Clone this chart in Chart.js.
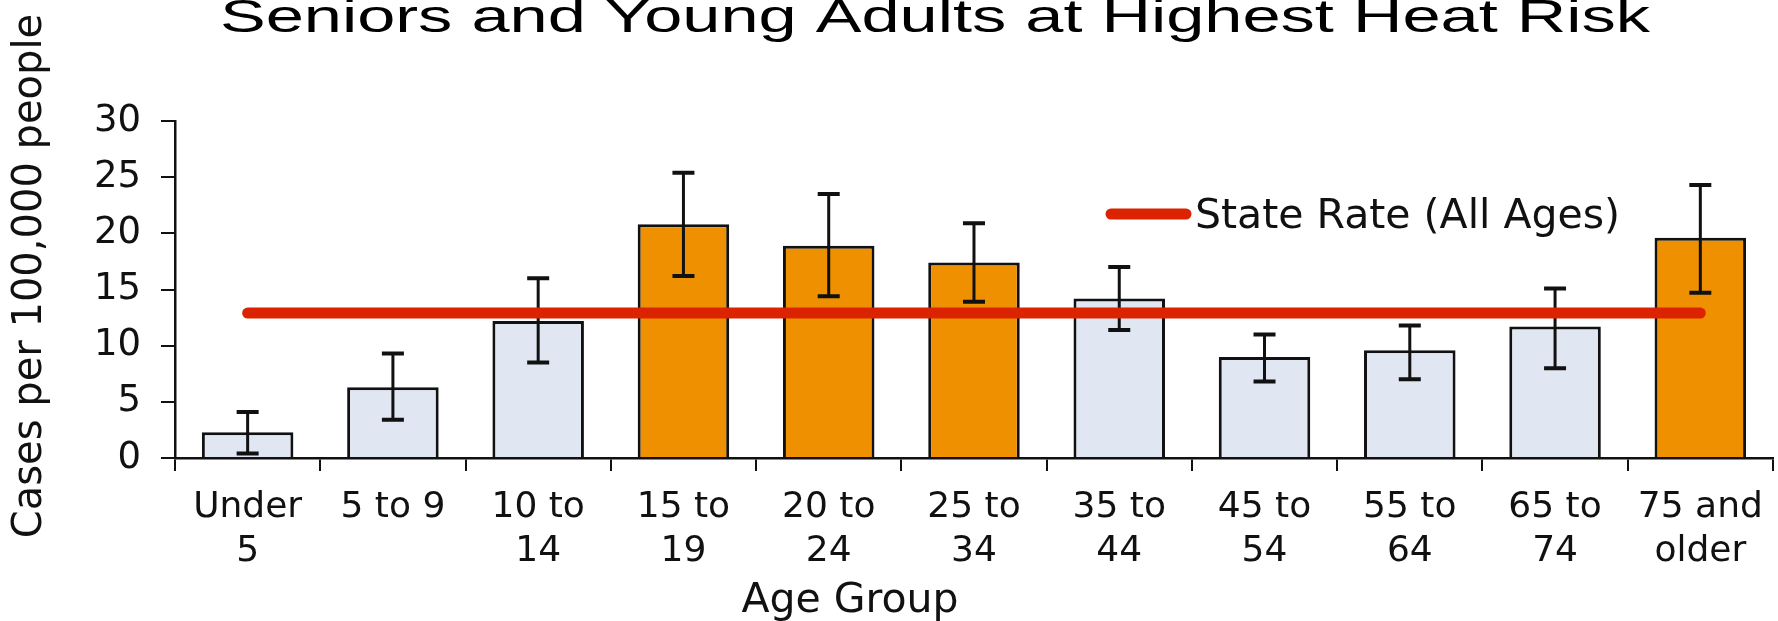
<!DOCTYPE html>
<html>
<head>
<meta charset="utf-8">
<script src="https://cdn.jsdelivr.net/npm/chart.js@4.4.1/dist/chart.umd.min.js"></script>
<style>
  html, body { margin: 0; padding: 0; background: #ffffff; }
  #wrap { width: 1778px; height: 621px; }
</style>
</head>
<body>
<div id="wrap"><canvas id="heat" width="1778" height="621"></canvas></div>
<script>
// values
const ageGroups = [['Under', '5'], ['5 to 9'], ['10 to', '14'], ['15 to', '19'], ['20 to', '24'],
  ['25 to', '34'], ['35 to', '44'], ['45 to', '54'], ['55 to', '64'], ['65 to', '74'], ['75 and', 'older']]
const caseRates = [2.3, 6.3, 12.2, 20.8, 18.9, 17.4, 14.2, 9.0, 9.6, 11.7, 19.6]
const ciLow = [0.4, 3.4, 8.5, 16.2, 14.4, 13.9, 11.4, 6.8, 7.0, 8.0, 14.7]
const ciHigh = [4.1, 9.3, 16.0, 25.4, 23.5, 20.9, 17.0, 11.0, 11.8, 15.1, 24.3]
const highRisk = [false, false, false, true, true, true, false, false, false, false, true]
const stateRate = 12.9
const yTicks = [0, 5, 10, 15, 20, 25, 30]

const chartTitle = 'Seniors and Young Adults at Highest Heat Risk'
const xTitle = 'Age Group'
const yTitle = 'Cases per 100,000 people'
const lineLabel = 'State Rate (All Ages)'

const orange = '#ee9000'
const pale = '#e0e6f2'
const red = '#dc2300'
const ink = '#111111'
const sans = '"DejaVu Sans", Verdana, sans-serif'

// error bars for the bar dataset
const errorBars = {
  id: 'errorBars',
  afterDatasetDraw(chart, args) {
    if (args.index !== 0) return
    const ctx = chart.ctx
    const y = chart.scales.y
    ctx.save()
    ctx.strokeStyle = ink
    args.meta.data.forEach((bar, i) => {
      const top = y.getPixelForValue(ciHigh[i])
      const bot = y.getPixelForValue(ciLow[i])
      ctx.lineWidth = 3
      ctx.beginPath()
      ctx.moveTo(bar.x, top)
      ctx.lineTo(bar.x, bot)
      ctx.stroke()
      ctx.lineWidth = 4
      ctx.beginPath()
      ctx.moveTo(bar.x - 11, top)
      ctx.lineTo(bar.x + 11, top)
      ctx.moveTo(bar.x - 11, bot)
      ctx.lineTo(bar.x + 11, bot)
      ctx.stroke()
    })
    ctx.restore()
  }
}

// title (cut at the top edge, wide), axis titles and the one-line legend
const labelsPlugin = {
  id: 'labelsPlugin',
  afterDraw(chart) {
    const ctx = chart.ctx
    ctx.save()
    ctx.fillStyle = '#000'

    ctx.font = '46px "Liberation Sans", Arial, sans-serif'
    ctx.textAlign = 'left'
    ctx.textBaseline = 'alphabetic'
    const tw = ctx.measureText(chartTitle).width
    ctx.save()
    ctx.translate(220, 32)
    ctx.scale(1430 / tw, 1)
    ctx.fillText(chartTitle, 0, 0)
    ctx.restore()

    ctx.fillStyle = ink
    ctx.textAlign = 'center'
    ctx.font = '41px ' + sans
    ctx.fillText(xTitle, 850, 612)

    ctx.save()
    ctx.translate(41, 276)
    ctx.rotate(-Math.PI / 2)
    ctx.font = '40px ' + sans
    ctx.fillText(yTitle, 0, 0)
    ctx.restore()

    ctx.strokeStyle = red
    ctx.lineWidth = 11
    ctx.lineCap = 'round'
    ctx.beginPath()
    ctx.moveTo(1111, 214)
    ctx.lineTo(1186, 214)
    ctx.stroke()
    ctx.font = '41px ' + sans
    ctx.textAlign = 'left'
    ctx.fillText(lineLabel, 1195, 228)
    ctx.restore()
  }
}

new Chart(document.getElementById('heat'), {
  data: {
    labels: ageGroups,
    datasets: [
      {
        type: 'bar',
        data: caseRates,
        backgroundColor: highRisk.map(h => h ? orange : pale),
        borderColor: ink,
        borderWidth: 3,
        barPercentage: 0.63,
        categoryPercentage: 1,
        order: 1
      },
      {
        type: 'line',
        label: lineLabel,
        data: ageGroups.map(() => stateRate),
        borderColor: red,
        borderWidth: 11,
        borderCapStyle: 'round',
        pointRadius: 0,
        order: 0
      }
    ]
  },
  options: {
    responsive: false,
    animation: false,
    devicePixelRatio: 1,
    layout: { padding: { top: 121, right: 4, left: 0, bottom: 0 } },
    plugins: {
      legend: { display: false },
      title: { display: false },
      tooltip: { enabled: false }
    },
    scales: {
      x: {
        offset: true,
        grid: { display: true, drawOnChartArea: false, offset: true, color: ink, lineWidth: 2, tickLength: 13 },
        border: { display: true, color: ink, width: 2.5 },
        ticks: { color: ink, font: { family: sans, size: 36, lineHeight: 1.22 }, padding: 15, maxRotation: 0, autoSkip: false },
        afterFit(scale) { scale.height = 163 }
      },
      y: {
        min: 0,
        max: 30,
        afterBuildTicks(scale) { scale.ticks = yTicks.map(v => ({ value: v })) },
        grid: { display: true, drawOnChartArea: false, color: ink, lineWidth: 2, tickLength: 14 },
        border: { display: true, color: ink, width: 2.5 },
        ticks: { color: ink, font: { family: sans, size: 37 }, padding: 20 },
        afterFit(scale) { scale.width = 175 }
      }
    }
  },
  plugins: [errorBars, labelsPlugin]
})
</script>
</body>
</html>
